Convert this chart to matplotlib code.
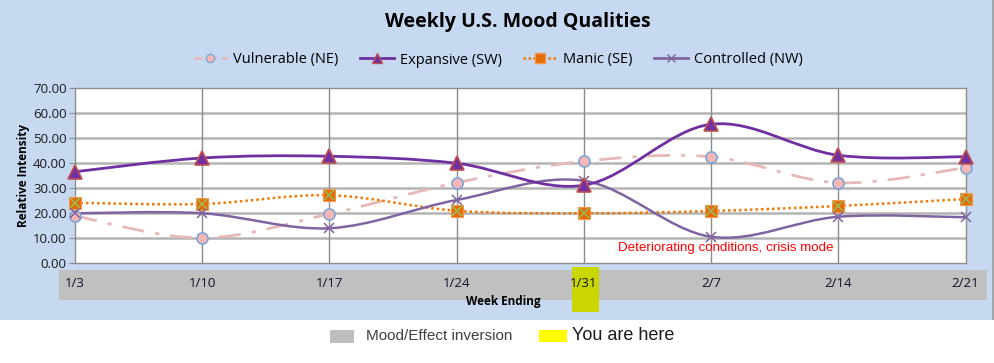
import matplotlib
matplotlib.use('Agg')
from matplotlib import pyplot as plt
from matplotlib.patches import Rectangle, PathPatch
from matplotlib.path import Path

# --- DATA -------------------------------------------------------------+

weeks = ['1/3', '1/10', '1/17', '1/24', '1/31', '2/7', '2/14', '2/21']
vulnerable = [18.8, 10.0, 19.6, 32.1, 40.7, 42.5, 32.1, 38.1]
expansive = [36.5, 42.0, 42.7, 39.9, 31.1, 55.5, 43.1, 42.5]
manic = [24.1, 23.6, 27.1, 20.9, 19.9, 20.8, 22.8, 25.6]
controlled = [19.9, 19.9, 13.9, 25.2, 32.9, 10.5, 18.5, 18.3]
you_are_here = '1/31'

W, H = 994, 363


def fx(x):
    return x / W


def fy(y):
    return 1 - y / H


# --- FUNCTIONS --------------------------------------------------------+

def smooth_path(xs, ys):
    # excel style smoothed line: cubic bezier through every point
    pts = list(zip(xs, ys))
    n = len(pts)
    verts = [pts[0]]
    codes = [Path.MOVETO]
    for i in range(n - 1):
        p0 = pts[i - 1] if i > 0 else pts[i]
        p1 = pts[i]
        p2 = pts[i + 1]
        p3 = pts[i + 2] if i + 2 < n else pts[i + 1]
        c1 = (p1[0] + (p2[0] - p0[0]) / 6, p1[1] + (p2[1] - p0[1]) / 6)
        c2 = (p2[0] - (p3[0] - p1[0]) / 6, p2[1] - (p3[1] - p1[1]) / 6)
        verts += [c1, c2, p2]
        codes += [Path.CURVE4] * 3
    return Path(verts, codes)


def plot_series(ax, vals, color, ls, lw, z):
    xs = list(range(len(vals)))
    patch = PathPatch(smooth_path(xs, vals), facecolor='none', edgecolor=color,
                      linestyle=ls, linewidth=lw, zorder=z, capstyle='butt')
    ax.add_patch(patch)


fig = plt.figure(figsize=(W / 100, H / 100), dpi=100)
fig.patch.set_facecolor('white')

# background panel
fig.add_artist(Rectangle((0, fy(320)), fx(993), 320 / H, transform=fig.transFigure,
                         facecolor='#C6D9F1', edgecolor='none', zorder=-3))
fig.add_artist(Rectangle((fx(992), fy(320)), fx(1.5), 320 / H, transform=fig.transFigure,
                         facecolor='#A0A8B0', edgecolor='none', zorder=-3))
# mood/effect inversion band
fig.add_artist(Rectangle((fx(59), fy(300)), fx(987 - 59), 30 / H, transform=fig.transFigure,
                         facecolor='#C0C0C0', edgecolor='none', zorder=-2))

ax = fig.add_axes([fx(75), fy(263), fx(965.5 - 75), (263 - 88) / H])
ax.set_facecolor('white')
ax.set_xlim(0, len(weeks) - 1)
ax.set_ylim(0, 70)

# you are here marker
xi = weeks.index(you_are_here)
xpix = 75 + xi * (965.5 - 75) / (len(weeks) - 1)
fig.add_artist(Rectangle((fx(xpix - 12), fy(312)), fx(27), 45 / H, transform=fig.transFigure,
                         facecolor='#C9D600', edgecolor='none', zorder=-1))

# grid
for y in range(10, 70, 10):
    ax.axhline(y, color='#B4B4B4', lw=1.8, zorder=1)
for x in range(1, len(weeks) - 1):
    ax.axvline(x, color='#8C8C8C', lw=1, zorder=1)
for s in ax.spines.values():
    s.set_color('#8C8C8C')
    s.set_linewidth(1)

# lines
plot_series(ax, vulnerable, '#E6B9B8', (0, (8, 4, 1.5, 4)), 2, 3)
plot_series(ax, expansive, '#7030A0', '-', 2, 4)
plot_series(ax, manic, '#F07800', (0, (1, 1.2)), 1.8, 3)
plot_series(ax, controlled, '#8064A2', '-', 1.8, 3)

xs = range(len(weeks))
ax.plot(xs, vulnerable, 'o', ms=8, mfc='#F4B6B6', mec='#7FA6D6', mew=1.2, zorder=6, clip_on=False)
ax.plot(xs, expansive, '^', ms=9.5, mfc='#7030A0', mec='#C0504D', mew=1.2, zorder=7, clip_on=False)
ax.plot(xs, manic, 's', ms=8, mfc='#E36C09', mec='#F79646', mew=0.8, zorder=6, clip_on=False)
ax.plot(xs, manic, 'x', ms=6.5, mec='#9BBB59', mew=1.1, zorder=6.5, clip_on=False)
ax.plot(xs, controlled, 'x', ms=7, mec='#8064A2', mew=1.1, zorder=6, clip_on=False)

# legend handles
h1, = ax.plot([], [], color='#E6B9B8', ls=(0, (3, 2)), lw=2, marker='o', ms=6,
              mfc='#F4B6B6', mec='#7FA6D6')
h2, = ax.plot([], [], color='#7030A0', lw=2, marker='^', ms=6.5, mfc='#7030A0', mec='#C0504D')
h3, = ax.plot([], [], color='#F07800', ls=(0, (1, 1)), lw=1.8, marker='s', ms=6.5,
              mfc='#E36C09', mec='#F79646')
h4, = ax.plot([], [], color='#8064A2', lw=2, marker='x', ms=6, mec='#8064A2')
fig.legend([h1, h2, h3, h4],
           ['Vulnerable (NE)', 'Expansive (SW)', 'Manic (SE)', 'Controlled (NW)'],
           loc='center', bbox_to_anchor=(fx(498), fy(60)), ncol=4, frameon=False,
           prop={'family': 'Open Sans', 'size': 10.5}, handlelength=2.3,
           columnspacing=1.5, handletextpad=0.4)

# ticks
ax.set_yticks(range(0, 71, 10))
ax.set_yticklabels(['%.2f' % v for v in range(0, 71, 10)], family='Open Sans', fontsize=9.5,
                   color='#1A1A1A')
ax.set_xticks(list(xs))
ax.set_xticklabels(weeks, family='Open Sans', fontsize=9.5, fontweight='medium',
                   color='#10102A')
ax.tick_params(axis='y', length=4, color='#8C8C8C', pad=2)
ax.tick_params(axis='x', length=0, pad=10)

ax.text(fx(17) - fx(75), 0.5, 'Relative Intensity', transform=ax.transAxes,
        rotation=90, ha='center', va='center', family='Open Sans', fontsize=8.5,
        fontweight='bold')
fig.text(fx(503), fy(302), 'Week Ending', ha='center', va='center', family='Open Sans',
         fontsize=8.5, fontweight='bold')
fig.text(fx(518), fy(22), 'Weekly U.S. Mood Qualities', ha='center', va='center',
         family='Open Sans', fontsize=14, fontweight='bold')
ax.text(4.27, 5.8, 'Deteriorating conditions, crisis mode', color='#FF0000',
        family='Liberation Sans', fontsize=9.6, ha='left', va='center', zorder=8)

# bottom key
fig.add_artist(Rectangle((fx(330), fy(343)), fx(24), 13 / H, transform=fig.transFigure,
                         facecolor='#BEBEBE', edgecolor='none'))
fig.text(fx(366), fy(336), 'Mood/Effect inversion', ha='left', va='center',
         family='Liberation Sans', fontsize=11, color='#404040')
fig.add_artist(Rectangle((fx(539), fy(342)), fx(28), 12 / H, transform=fig.transFigure,
                         facecolor='#FFFF00', edgecolor='none'))
fig.text(fx(572), fy(336), 'You are here', ha='left', va='center',
         family='Liberation Sans', fontsize=13, color='#1A1A1A')

plt.savefig('out.png', dpi=100)
